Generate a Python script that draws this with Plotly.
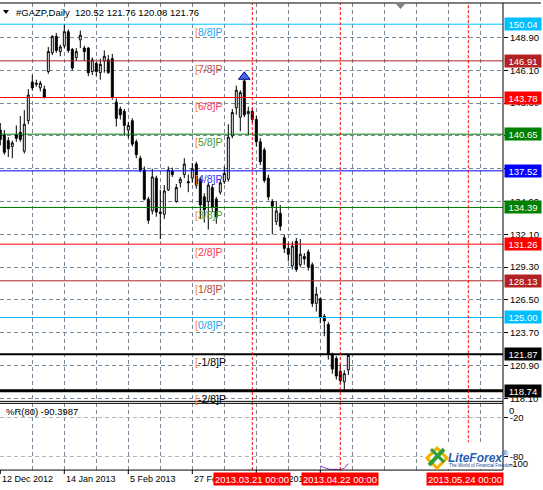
import plotly.graph_objects as go

W, H = 543, 490

# ---------------- data ----------------
opens = [141.0, 140.6, 140.1, 139.6, 140.6, 140.8, 139.2, 141.8, 145.1, 144.9,
         144.6, 144.5, 146.0, 147.6, 149.0, 147.7, 148.2, 149.4, 147.9, 147.2,
         148.7, 148.0, 148.0, 146.0, 146.7, 145.9, 146.9, 147.0, 147.1, 143.4,
         142.8, 142.6, 141.0, 141.8, 140.0, 138.6, 137.6, 135.1, 134.1, 136.9,
         134.0, 133.8, 135.9, 137.5, 134.9, 136.5, 137.2, 136.6, 136.9, 138.1,
         136.8, 135.3, 134.9, 136.1, 135.1, 135.7, 136.6, 136.8, 140.5, 142.9,
         142.1, 145.2, 142.4, 142.6, 141.9, 140.0, 139.3, 136.9, 134.9, 133.2,
         133.9, 131.8, 130.9, 129.4, 131.5, 129.5, 130.2, 130.6, 129.5, 126.2,
         126.6, 125.1, 124.4, 121.8, 121.5, 120.4, 119.5, 120.52]
highs = [141.6, 141.0, 140.4, 140.1, 141.4, 142.2, 142.7, 144.5, 145.7, 145.3,
         145.2, 144.8, 148.1, 149.1, 149.3, 148.3, 150.04, 149.6, 148.0, 148.0,
         149.5, 148.2, 148.1, 147.2, 146.8, 147.1, 147.8, 147.4, 147.5, 143.7,
         143.0, 142.8, 141.7, 142.0, 140.2, 138.8, 137.9, 135.3, 137.7, 137.1,
         135.9, 136.3, 137.9, 137.8, 136.4, 137.0, 138.6, 137.2, 138.2, 138.3,
         137.0, 135.6, 136.5, 136.4, 135.3, 136.8, 137.9, 141.5, 142.8, 144.8,
         144.4, 145.3, 143.0, 142.9, 142.2, 140.3, 139.5, 137.2, 135.1, 134.9,
         134.6, 132.1, 131.4, 131.5, 131.8, 131.7, 130.5, 130.8, 129.7, 127.6,
         126.7, 125.3, 124.6, 122.0, 121.7, 121.0, 120.5, 121.76]
lows = [139.7, 138.9, 138.7, 138.6, 140.0, 140.0, 139.0, 141.5, 144.4, 144.7,
        144.3, 143.7, 145.8, 147.4, 147.6, 147.3, 148.0, 147.6, 146.1, 146.9,
        148.0, 146.9, 145.6, 145.7, 145.6, 145.3, 145.9, 145.8, 143.6, 141.3,
        141.9, 140.5, 140.3, 139.6, 138.6, 137.4, 135.0, 133.0, 133.8, 133.6,
        131.7, 133.4, 135.8, 137.0, 134.8, 136.1, 136.9, 135.7, 136.5, 136.0,
        133.4, 133.1, 132.5, 134.0, 133.0, 135.5, 136.4, 136.6, 140.3, 142.3,
        140.9, 142.1, 140.6, 141.6, 139.6, 138.0, 136.5, 135.0, 132.1, 132.9,
        132.4, 130.5, 129.8, 129.1, 128.9, 129.3, 129.5, 129.0, 125.9, 125.5,
        124.5, 123.4, 121.4, 120.2, 119.7, 119.3, 118.74, 120.08]
closes = [140.2, 139.1, 139.4, 139.9, 140.3, 140.2, 141.5, 144.0, 144.6, 145.0,
          145.0, 143.8, 147.7, 149.0, 147.8, 148.1, 149.4, 147.8, 146.3, 147.7,
          149.1, 147.7, 145.9, 147.0, 146.0, 146.6, 147.3, 145.9, 143.8, 142.0,
          142.3, 141.4, 141.4, 139.8, 138.9, 137.6, 135.1, 133.3, 137.0, 134.0,
          133.9, 135.8, 137.6, 137.2, 136.1, 136.8, 138.1, 136.5, 137.7, 136.3,
          134.6, 134.2, 136.3, 134.4, 133.6, 136.5, 137.3, 140.4, 142.5, 144.4,
          144.2, 142.3, 142.6, 141.9, 140.0, 138.3, 136.7, 135.3, 134.5, 134.1,
          132.8, 130.9, 130.4, 131.1, 129.1, 130.4, 130.0, 129.3, 126.2, 127.0,
          125.0, 124.7, 121.9, 120.6, 120.0, 119.6, 120.2, 121.76]
bars = list(range(len(opens)))  # daily bar index (one slot per trading day)

date_tick_bars = [0, 16, 32, 48, 64, 80]
date_tick_labels = ["12 Dec 2012", "14 Jan 2013", "5 Feb 2013", "27 Feb 2013",
                    "22 Mar 2013", "15 Apr 2013"]

price_ticks = [148.90, 146.10, 143.30, 140.50, 137.70, 134.90, 132.10,
               129.30, 126.50, 123.70, 120.90, 118.10]

murrey_levels = [150.04, 146.91, 143.78, 140.65, 137.52, 134.39, 131.26,
                 128.13, 125.00, 121.87, 118.74]
murrey_labels = ["[8/8]P", "[7/8]P", "[6/8]P", "[5/8]P", "[4/8]P", "[3/8]P",
                 "[2/8]P", "[1/8]P", "[0/8]P", "[-1/8]P", "[-2/8]P"]

vline_bars = [63, 85, 117]
vline_labels = ["2013.03.21 00:00", "2013.04.22 00:00", "2013.05.24 00:00"]

wpr_bars = [80, 81, 82, 83, 84, 85, 86, 87]
wpr_values = [-94.0, -96.5, -98.5, -99.2, -99.0, -99.3, -97.0, -90.3987]
wpr_ticks = [-20, -80]

signal_bar = [61]
signal_price = [145.55]

# ---------------- styling ----------------
murrey_colors = ["#00bfff", "#b22222", "#ff0000", "#008000", "#0000ff", "#008000",
                 "#ff0000", "#b22222", "#00bfff", "#000000", "#000000"]
murrey_text_colors = ["#1ea7f0", "#c0504d", "#ff3366", "#3c9a3c", "#3333ff", "#5a9a2a",
                      "#ff3355", "#b5453a", "#1ea7f0", "#000000", "#000000"]
murrey_widths = [1, 1, 1, 1, 1, 1, 1, 1, 1, 2, 3]
box_text_colors = ["#ffffff"] * 11

FONT = "Liberation Sans, Arial, sans-serif"


def px(x):
    return x / W


def py(y):
    return 1 - y / H


PLOT_R = 503
X0 = -0.3 / 4
X1 = X0 + PLOT_R / 4
# price scale: 150.04 at y=24.3, 0.08503 per px
S = 0.08503
Y_TOP, Y_BOT = 3, 403
P_TOP = 150.04 + (24.3 - Y_TOP) * S
P_BOT = 150.04 - (Y_BOT - 24.3) * S
IND_TOP, IND_BOT = 405, 472

fig = go.Figure()

fig.add_trace(go.Candlestick(
    x=bars, open=opens, high=highs, low=lows, close=closes,
    increasing=dict(line=dict(color="black", width=1), fillcolor="white"),
    decreasing=dict(line=dict(color="black", width=1), fillcolor="black"),
    whiskerwidth=0, showlegend=False, hoverinfo="skip",
    xaxis="x", yaxis="y"))

fig.add_trace(go.Scatter(
    x=signal_bar, y=signal_price, mode="markers",
    marker=dict(symbol="triangle-up", size=10, color="#4169e1",
                line=dict(color="#000080", width=1)),
    showlegend=False, hoverinfo="skip", xaxis="x", yaxis="y"))

fig.add_trace(go.Scatter(
    x=wpr_bars, y=wpr_values, mode="lines",
    line=dict(color="#8a2be2", width=1, shape="spline"),
    showlegend=False, hoverinfo="skip", xaxis="x2", yaxis="y2"))

shapes = []
annotations = []

# Murrey lines and labels
for lvl, lab, col, tcol, wid, bcol in zip(murrey_levels, murrey_labels, murrey_colors,
                                          murrey_text_colors, murrey_widths, box_text_colors):
    shapes.append(dict(type="line", xref="paper", yref="y", x0=0, x1=px(PLOT_R),
                       y0=lvl, y1=lvl, line=dict(color=col, width=wid), layer="above"))
    annotations.append(dict(
        xref="paper", yref="y", x=px(193), y=lvl, xanchor="left", yanchor="top",
        text='<span style="color:#ff8c00">[</span>' + lab[1:], showarrow=False,
        font=dict(family=FONT, size=10.5, color=tcol), yshift=0))
    annotations.append(dict(
        xref="paper", yref="y", x=px(504), y=lvl, xanchor="left", yanchor="middle",
        text="%.2f" % lvl, showarrow=False, bgcolor=col, width=34, height=10,
        borderpad=1, align="center",
        font=dict(family=FONT, size=9.5, color=bcol)))

# red vertical lines
for b in vline_bars:
    ybot = IND_BOT if b != 117 else 445
    shapes.append(dict(type="line", xref="x", yref="paper", x0=b, x1=b,
                       y0=py(ybot), y1=py(Y_TOP), layer="above",
                       line=dict(color="#ff0000", width=1, dash="3px,2px")))

# frame lines
line_k = dict(color="black", width=1)
shapes += [
    dict(type="line", xref="paper", yref="paper", x0=0, x1=px(541), y0=py(3), y1=py(3), line=line_k),
    dict(type="line", xref="paper", yref="paper", x0=px(PLOT_R), x1=px(PLOT_R), y0=py(IND_BOT), y1=py(3), line=line_k),
    dict(type="line", xref="paper", yref="paper", x0=0, x1=px(PLOT_R), y0=py(Y_BOT), y1=py(Y_BOT), line=line_k),
    dict(type="line", xref="paper", yref="paper", x0=0, x1=px(PLOT_R), y0=py(IND_TOP), y1=py(IND_TOP), line=line_k),
    dict(type="line", xref="paper", yref="paper", x0=0, x1=px(PLOT_R), y0=py(IND_BOT), y1=py(IND_BOT), line=line_k),
]
for b in date_tick_bars:
    shapes.append(dict(type="line", xref="x", yref="paper", x0=b, x1=b,
                       y0=py(IND_BOT + 4), y1=py(IND_BOT), line=line_k))

# header triangle and shift marker
shapes.append(dict(type="path", xref="paper", yref="paper",
                   path="M %f,%f L %f,%f L %f,%f Z" % (px(3), py(10), px(9), py(10), px(6), py(14)),
                   fillcolor="black", line=dict(width=0)))
shapes.append(dict(type="path", xref="paper", yref="paper",
                   path="M %f,%f L %f,%f L %f,%f Z" % (px(396), py(4), px(405), py(4), px(400.5), py(9)),
                   fillcolor="#808080", line=dict(width=0)))

# logo background & symbol
shapes.append(dict(type="rect", xref="paper", yref="paper", x0=px(423), x1=px(502),
                   y0=py(471), y1=py(444), fillcolor="white", line=dict(width=0), layer="above"))
shapes.append(dict(type="path", xref="paper", yref="paper", layer="above",
                   path="M %f,%f L %f,%f L %f,%f L %f,%f Z" % (px(427), py(460), px(437), py(450),
                                                             px(447), py(460), px(437), py(470)),
                   line=dict(color="#f0b400", width=3)))
shapes.append(dict(type="line", xref="paper", yref="paper", layer="above",
                   x0=px(429), y0=py(467), x1=px(444), y1=py(451),
                   line=dict(color="#2e9e3e", width=4)))
shapes.append(dict(type="line", xref="paper", yref="paper", layer="above",
                   x0=px(431), y0=py(451), x1=px(444), y1=py(464),
                   line=dict(color="#2e9e3e", width=3)))

# header text
annotations.append(dict(xref="paper", yref="paper", x=px(14), y=py(12.5), xanchor="left",
                        yanchor="middle", showarrow=False,
                        text="#GAZP,Daily  120.52 121.76 120.08 121.76",
                        font=dict(family=FONT, size=9.5, color="black")))
annotations.append(dict(xref="paper", yref="paper", x=px(4), y=py(413.5), xanchor="left",
                        yanchor="middle", showarrow=False, text="%R(80) -90.3987",
                        font=dict(family=FONT, size=9.5, color="black")))
# indicator fixed min / max labels
for txt, yy in [("0", 412), ("-100", 465.5)]:
    annotations.append(dict(xref="paper", yref="paper", x=px(507), y=py(yy), xanchor="left",
                            yanchor="middle", showarrow=False, text=txt,
                            font=dict(family=FONT, size=9.5, color="black")))

# date labels
for b, lab in zip(date_tick_bars, date_tick_labels):
    annotations.append(dict(xref="x", yref="paper", x=b, y=py(480.5), xanchor="left",
                            yanchor="middle", showarrow=False, text=lab, xshift=0,
                            font=dict(family=FONT, size=9, color="black")))
for b, lab, sh in zip(vline_bars, vline_labels, [0, 0, -3]):
    annotations.append(dict(xref="x", yref="paper", x=b, y=py(480.5), xanchor="center",
                            yanchor="middle", showarrow=False, text=lab, xshift=sh,
                            bgcolor="#ff0000", borderpad=1, height=10,
                            font=dict(family=FONT, size=9.5, color="white")))

# logo text
annotations.append(dict(xref="paper", yref="paper", x=px(446), y=py(459), xanchor="left",
                        yanchor="middle", showarrow=False,
                        text="<b><i>LiteForex</i></b><sup>®</sup>",
                        font=dict(family=FONT, size=12, color="#2a5db0")))
annotations.append(dict(xref="paper", yref="paper", x=px(447), y=py(467.5), xanchor="left",
                        yanchor="middle", showarrow=False,
                        text="The World of Financial Freedom",
                        font=dict(family=FONT, size=4.5, color="#1a3f8f")))

grid_x = list(range(8, 126, 8))

fig.update_layout(
    width=W, height=H, margin=dict(l=0, r=0, t=0, b=0),
    paper_bgcolor="white", plot_bgcolor="white",
    showlegend=False, shapes=shapes, annotations=annotations,
    font=dict(family=FONT, size=9.5, color="black"),
    xaxis=dict(domain=[0, px(PLOT_R)], range=[X0, X1], anchor="y",
               tickvals=grid_x, showticklabels=False, ticks="",
               showgrid=True, gridcolor="#778899", griddash="4px,3px", gridwidth=1,
               zeroline=False, showline=False, rangeslider=dict(visible=False),
               fixedrange=True),
    xaxis2=dict(domain=[0, px(PLOT_R)], range=[X0, X1], anchor="y2", matches="x",
                tickvals=grid_x, showticklabels=False, ticks="",
                showgrid=True, gridcolor="#778899", griddash="4px,3px", gridwidth=1,
                zeroline=False, showline=False, fixedrange=True),
    yaxis=dict(domain=[py(Y_BOT), py(Y_TOP)], range=[P_BOT, P_TOP], anchor="x",
               side="right", tickvals=price_ticks,
               ticktext=["%.2f" % v for v in price_ticks],
               ticks="outside", ticklen=4, tickcolor="black", tickwidth=1,
               tickfont=dict(family=FONT, size=9.5, color="black"),
               showgrid=True, gridcolor="#778899", griddash="4px,3px", gridwidth=1,
               zeroline=False, showline=False, fixedrange=True),
    yaxis2=dict(domain=[py(IND_BOT), py(IND_TOP)], range=[-100.2, 1.8], anchor="x2",
                side="right", tickvals=wpr_ticks, ticktext=[str(v) for v in wpr_ticks],
                ticks="outside", ticklen=4, tickcolor="black", tickwidth=1,
                tickfont=dict(family=FONT, size=9.5, color="black"),
                showgrid=True, gridcolor="#b4b4b4", griddash="4px,3px", gridwidth=1,
                zeroline=False, showline=False, fixedrange=True),
)

fig.write_html("out.html", config={"displayModeBar": False},
               post_script="document.body.style.margin='0';document.body.style.overflow='hidden';")
